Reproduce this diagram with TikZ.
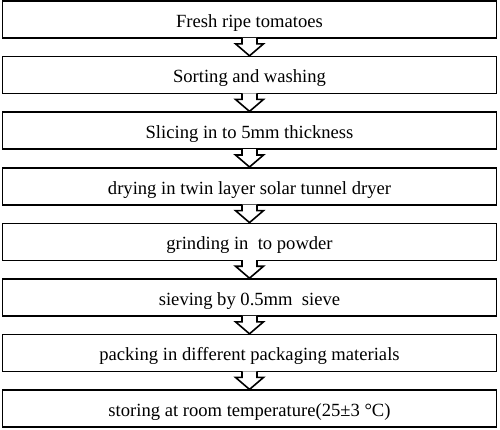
\documentclass[tikz,border=0pt]{standalone}
\usepackage{fontspec}
\setmainfont{Liberation Serif}
\usetikzlibrary{positioning}
\tikzset{
	stepbox/.style={draw,line width=1.6pt,minimum width=494pt,minimum height=37pt,inner sep=0pt,text height=15.4pt,text depth=0pt,font=\fontsize{18.6}{20}\selectfont},
	flowarrow/.style={draw,fill=white,line width=1.6pt,line join=miter}
}
\begin{document}
\begin{tikzpicture}[x=1pt,y=1pt,node distance=17pt]
			\useasboundingbox (0,0) rectangle (500,-429);
			\node[stepbox] (s1) at (249.5,-19.5) {Fresh ripe tomatoes};
			\node[stepbox,below=of s1] (s2) {Sorting and washing};
			\node[stepbox,below=of s2] (s3) {Slicing in to 5mm thickness};
			\node[stepbox,below=of s3] (s4) {drying in twin layer solar tunnel dryer};
			\node[stepbox,below=of s4] (s5) {grinding in\ \ to powder};
			\node[stepbox,below=of s5] (s6) {sieving by 0.5mm\ \ sieve};
			\node[stepbox,below=of s6] (s7) {packing in different packaging materials};
			\node[stepbox,below=of s7] (s8) {storing at room temperature(25±3 °C)};
			\foreach \a/\b in {s1/s2,s2/s3,s3/s4,s4/s5,s5/s6,s6/s7,s7/s8}{
				\draw[flowarrow] ([xshift=-7.5pt,yshift=1pt]\a.south) -- ([xshift=-7.5pt,yshift=-5pt]\a.south)
					-- ([xshift=-14pt,yshift=-5pt]\a.south) -- (\b.north)
					-- ([xshift=14pt,yshift=-5pt]\a.south) -- ([xshift=7.5pt,yshift=-5pt]\a.south)
					-- ([xshift=7.5pt,yshift=1pt]\a.south);
			}
		\end{tikzpicture}
\end{document}
